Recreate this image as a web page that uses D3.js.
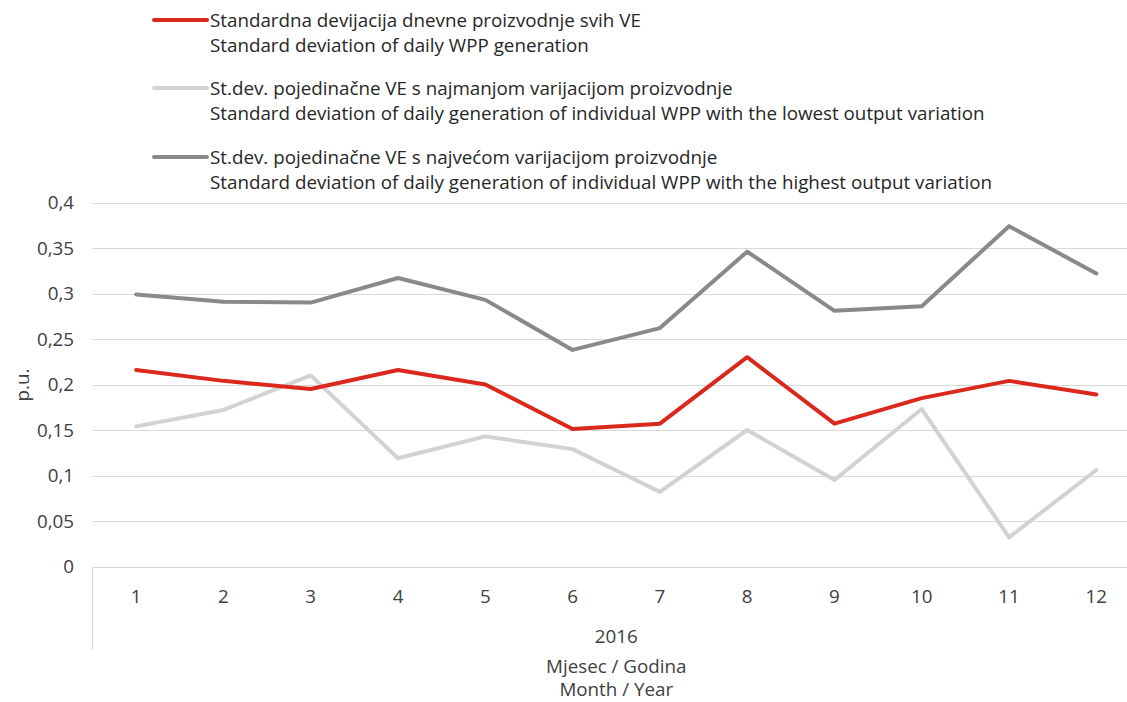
<!DOCTYPE html>
<html><head><meta charset="utf-8">
<script src="https://cdn.jsdelivr.net/npm/d3@7"></script>
<style>body{margin:0;background:#fff;}svg{display:block;font-family:"Open Sans",sans-serif;}</style>
</head><body>
<script>
const months = [1,2,3,4,5,6,7,8,9,10,11,12];
const yTicks = [0,0.05,0.1,0.15,0.2,0.25,0.3,0.35,0.4];
const sdAll = [0.216,0.204,0.195,0.216,0.200,0.151,0.157,0.230,0.157,0.185,0.204,0.189];
const sdLowest = [0.154,0.172,0.210,0.119,0.143,0.129,0.082,0.150,0.095,0.173,0.032,0.106];
const sdHighest = [0.299,0.291,0.290,0.317,0.293,0.238,0.262,0.346,0.281,0.286,0.374,0.322];
const seriesNames = [
  ["Standardna devijacija dnevne proizvodnje svih VE","Standard deviation of daily WPP generation"],
  ["St.dev. pojedinačne VE s najmanjom varijacijom proizvodnje","Standard deviation of daily generation of individual WPP with the lowest output variation"],
  ["St.dev. pojedinačne VE s najvećom varijacijom proizvodnje","Standard deviation of daily generation of individual WPP with the highest output variation"]
];
const colors = ["#DA291C","#D0D3D4","#87898B"];
const yearLabel = "2016";
const axisTitle = ["Mjesec / Godina","Month / Year"];
const yTitle = "p.u.";

const W=1127,H=702,FS=18.8;
const svg=d3.select("body").append("svg").attr("width",W).attr("height",H);
const pL=92.5,pR=1140,pT=202.5,pB=566.5;
const x=d3.scaleBand().domain(months).range([pL,pR]);
const y=d3.scaleLinear().domain([0,0.4]).range([pB,pT]);
const fmt=d=>String(d).replace(".",",");

svg.append("g").selectAll("line").data(yTicks).join("line")
  .attr("x1",pL).attr("x2",pR).attr("y1",d=>Math.round(y(d))+0.5).attr("y2",d=>Math.round(y(d))+0.5)
  .attr("stroke","#D9D9D9").attr("stroke-width",1);
svg.append("line").attr("x1",pL).attr("x2",pL).attr("y1",pB).attr("y2",650)
  .attr("stroke","#D9D9D9").attr("stroke-width",1);

svg.append("g").selectAll("text").data(yTicks).join("text")
  .attr("x",74).attr("y",d=>y(d)).attr("dy","0.35em").attr("text-anchor","end")
  .attr("font-size",FS).attr("fill","#404040").text(fmt);
svg.append("text").attr("transform","translate(22,385) rotate(-90)").attr("text-anchor","middle")
  .attr("dy","0.35em").attr("font-size",FS).attr("fill","#404040").text(yTitle);

svg.append("g").selectAll("text").data(months).join("text")
  .attr("x",d=>x(d)+x.bandwidth()/2).attr("y",596).attr("dy","0.35em").attr("text-anchor","middle")
  .attr("font-size",FS).attr("fill","#404040").text(d=>d);
const cx=(pL+pR)/2;
svg.append("text").attr("x",cx).attr("y",636).attr("dy","0.35em").attr("text-anchor","middle")
  .attr("font-size",FS).attr("fill","#404040").text(yearLabel);
axisTitle.forEach((t,i)=>svg.append("text").attr("x",cx).attr("y",666+i*23.5).attr("dy","0.35em")
  .attr("text-anchor","middle").attr("font-size",FS).attr("fill","#404040").text(t));

const line=d3.line().x((d,i)=>x(months[i])+x.bandwidth()/2).y(d=>y(d));
[[sdHighest,2],[sdLowest,1],[sdAll,0]].forEach(([s,ci])=>{
  svg.append("path").datum(s).attr("d",line).attr("fill","none").attr("stroke",colors[ci])
    .attr("stroke-width",4).attr("stroke-linejoin","round").attr("stroke-linecap","round");
});

const legY=[20,88,157];
seriesNames.forEach((n,i)=>{
  svg.append("line").attr("x1",154).attr("x2",207).attr("y1",legY[i]).attr("y2",legY[i])
    .attr("stroke",colors[i]).attr("stroke-width",4).attr("stroke-linecap","round");
  n.forEach((t,j)=>svg.append("text").attr("x",210).attr("y",legY[i]+j*25.5).attr("dy","0.35em")
    .attr("font-size",FS).attr("fill","#262626").text(t));
});
</script>
</body></html>
